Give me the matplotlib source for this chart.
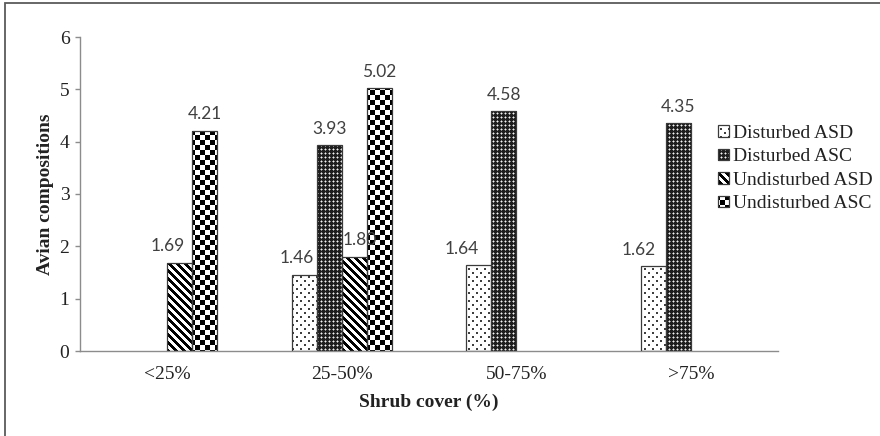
import numpy as np
import matplotlib
matplotlib.use("Agg")
import matplotlib.pyplot as plt
from matplotlib.patches import Rectangle, Patch

# ---- data ----
categories = ["<25%", "25-50%", "50-75%", ">75%"]
series_names = ["Disturbed ASD", "Disturbed ASC", "Undisturbed ASD", "Undisturbed ASC"]
disturbed_asd = [np.nan, 1.46, 1.64, 1.62]
disturbed_asc = [np.nan, 3.93, 4.58, 4.35]
undisturbed_asd = [1.69, 1.80, np.nan, np.nan]
undisturbed_asc = [4.21, 5.02, np.nan, np.nan]
y_ticks = [0, 1, 2, 3, 4, 5, 6]

# horizontal nudges (pixels) for value labels that would otherwise collide
label_nudge = [
    [0, -8, -17, -15],
    [0, 0, 0, 0],
    [-12, 5, 0, 0],
    [0, 0, 0, 0],
]

W, H, DPI = 880, 436, 100
SERIF = "Liberation Serif"
LABEL_FONT = "Lato"


def texture(kind, h, w):
    """Gray-level fill pattern as an RGB array of h x w pixels."""
    r = np.arange(h)[:, None]
    c = np.arange(w)[None, :]
    if kind == "dots":
        g = np.ones((h, w))
        m1 = (r % 8 < 2) & (c % 8 < 2)
        m2 = ((r - 4) % 8 < 2) & ((c - 4) % 8 < 2)
        g[m1 | m2] = 0.25
    elif kind == "dense":
        tile = np.array([
            [0.12, 0.55, 0.12, 0.12],
            [0.55, 0.95, 0.55, 0.12],
            [0.12, 0.55, 0.12, 0.12],
            [0.12, 0.12, 0.12, 0.12],
        ])
        g = tile[r % 4, c % 4]
    elif kind == "stripes":
        g = np.where(((c - r) % 8) < 4, 0.0, 1.0)
    else:  # checker
        g = np.where(((r // 5) + (c // 5)) % 2 == 0, 0.0, 1.0)
    g = np.broadcast_to(g, (h, w)).astype(float)
    return np.dstack([g, g, g])


kinds = ["dots", "dense", "stripes", "checker"]
textures = {k: texture(k, H, W) for k in kinds}

fig = plt.figure(figsize=(W / DPI, H / DPI), dpi=DPI, facecolor="white")
ax = fig.add_axes([80 / W, (H - 351) / H, 698 / W, 314 / H])
ax.patch.set_visible(False)

series = [disturbed_asd, disturbed_asc, undisturbed_asd, undisturbed_asc]
x = np.arange(len(categories))
bw = 25 / 174.5
edge = "#3a3a3a"

for si, (vals, kind) in enumerate(zip(series, kinds)):
    offset = (si - 1.5) * bw
    for ci, v in enumerate(vals):
        if np.isnan(v):
            continue
        bar = ax.bar(x[ci] + offset, v, width=bw, facecolor="none",
                     edgecolor=edge, linewidth=0.9, zorder=3)[0]
        im = fig.figimage(textures[kind], xo=0, yo=0, origin="upper",
                          zorder=-1)
        im.set_clip_path(bar)
        ax.annotate(f"{v:.2f}", xy=(x[ci] + offset, v),
                    xytext=(label_nudge[si][ci] * 0.72, 6),
                    textcoords="offset points", ha="center", va="bottom",
                    fontsize=12.5, family=LABEL_FONT, color="#404040",
                    zorder=4)

ax.set_xlim(-0.5, len(categories) - 0.5)
ax.set_ylim(0, 6)
ax.set_yticks(y_ticks)
ax.set_xticks(x)
ax.set_xticklabels(categories)

axis_gray = "#8c8c8c"
for s in ("top", "right"):
    ax.spines[s].set_visible(False)
for s in ("left", "bottom"):
    ax.spines[s].set_color(axis_gray)
    ax.spines[s].set_linewidth(1.0)

ax.tick_params(axis="y", direction="out", length=3.6, width=1.0,
               color=axis_gray, pad=4, labelsize=14, labelcolor="#222222")
ax.tick_params(axis="x", length=0, pad=11, labelsize=14, labelcolor="#222222")
for lab in ax.get_xticklabels() + ax.get_yticklabels():
    lab.set_family(SERIF)

ax.set_ylabel("Avian compositions", family=SERIF, fontsize=14,
              fontweight="bold", color="#222222")
ax.yaxis.set_label_coords((45 - 80) / 698, 0.5)
ax.yaxis.label.set_verticalalignment("center")
ax.set_xlabel("Shrub cover (%)", family=SERIF, fontsize=14,
              fontweight="bold", color="#222222")
ax.xaxis.set_label_coords(0.5, (351 - 402) / 314)
ax.xaxis.label.set_verticalalignment("center")

handles = [Patch(facecolor="none", edgecolor=edge, linewidth=0.9, label=n)
           for n in series_names]
leg = ax.legend(handles=handles, loc="upper left",
                bbox_to_anchor=(718 / W, 1 - 125 / H),
                bbox_transform=fig.transFigure, frameon=False,
                prop={"family": SERIF, "size": 14},
                handlelength=0.55, handleheight=0.55, handletextpad=0.2,
                labelspacing=0.33, borderpad=0, borderaxespad=0)
for t in leg.get_texts():
    t.set_color("#222222")

# outer frame around the chart area
fig.add_artist(Rectangle((5 / W, -0.2), 2.0, 1.2 - 3 / H,
                         transform=fig.transFigure, fill=False,
                         edgecolor="#5a5a5a", linewidth=1.3))

# fill legend keys with the same patterns once their positions are known
fig.canvas.draw()
for p, kind in zip(leg.get_patches(), kinds):
    im = fig.figimage(textures[kind], xo=0, yo=0, origin="upper", zorder=-1)
    im.set_clip_path(p)

fig.savefig("out.png", dpi=DPI, facecolor="white")
